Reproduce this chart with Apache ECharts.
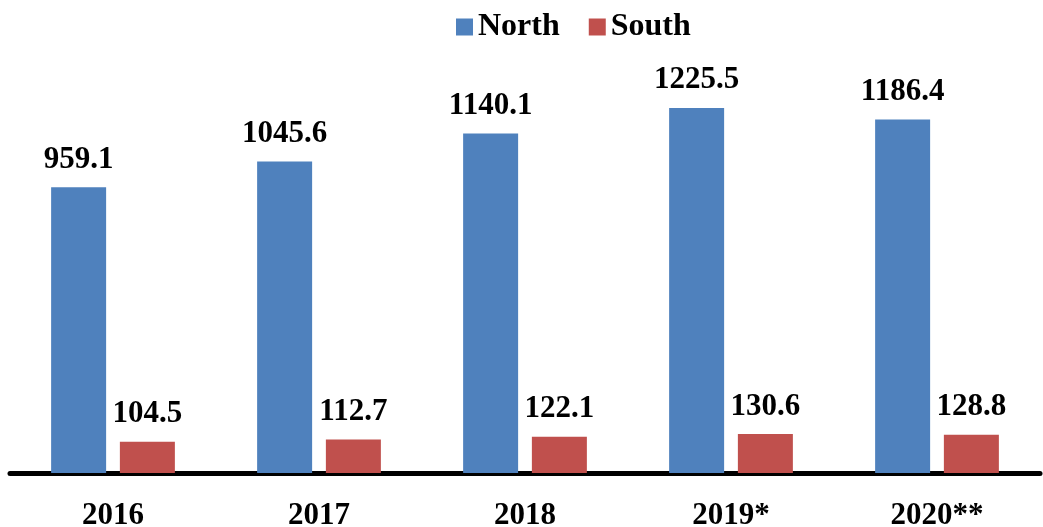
<!DOCTYPE html>
<html>
<head>
<meta charset="utf-8">
<script src="https://cdn.jsdelivr.net/npm/echarts@6/dist/echarts.min.js"></script>
<style>html,body{margin:0;padding:0;background:#fff;}#c{width:1043px;height:527px;}</style>
</head>
<body>
<div id="c"></div>
<script>
const categories = ['2016', '2017', '2018', '2019*', '2020**'];
const north = [959.1, 1045.6, 1140.1, 1225.5, 1186.4];
const south = [104.5, 112.7, 122.1, 130.6, 128.8];

const font = "'Liberation Serif', 'Times New Roman', serif";
const chart = echarts.init(document.getElementById('c'));
const labelStyle = {
  show: true, position: 'top', distance: 12,
  fontFamily: font, fontWeight: 'bold', fontSize: 31, color: '#000'
};
chart.setOption({
  animation: false,
  legend: {
    left: 451, top: 6, itemWidth: 17, itemHeight: 17, itemGap: 29,
    icon: 'rect',
    textStyle: { fontFamily: font, fontWeight: 'bold', fontSize: 32, color: '#000', lineHeight: 30 },
    data: ['North', 'South']
  },
  grid: { left: 10, right: 3, top: 56, bottom: 54, containLabel: false, outerBoundsMode: 'none' },
  xAxis: {
    type: 'category', data: categories, offset: 2,
    axisLine: { lineStyle: { color: '#000', width: 5 } },
    axisTick: { show: false },
    axisLabel: { margin: 25, fontFamily: font, fontWeight: 'bold', fontSize: 31, color: '#000' }
  },
  yAxis: { type: 'value', min: 0, max: 1400, show: false, splitLine: { show: false } },
  series: [
    { name: 'North', type: 'bar', data: north, barWidth: '26.7%', barGap: '25%',
      itemStyle: { color: '#4F81BD' }, label: labelStyle },
    { name: 'South', type: 'bar', data: south, barWidth: '26.7%', barGap: '25%',
      itemStyle: { color: '#C0504D' }, label: labelStyle }
  ]
});
</script>
</body>
</html>
